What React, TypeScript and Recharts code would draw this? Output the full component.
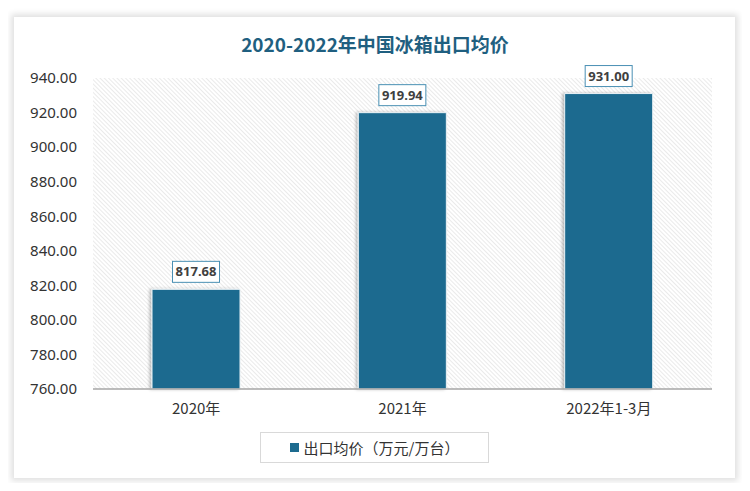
import React from "react";
import { BarChart, Bar, XAxis, YAxis, CartesianGrid, LabelList } from "recharts";

const categories = ["2020年", "2021年", "2022年1-3月"];
const values = [817.68, 919.94, 931.0];
const yTicks = [760, 780, 800, 820, 840, 860, 880, 900, 920, 940];
const seriesName = "出口均价（万元/万台）";
const title = "2020-2022年中国冰箱出口均价";

const data = categories.map((c, i) => ({ name: c, value: values[i] }));

const BAR_COLOR = "#1d6b8f";

const ValueLabel = (props: any) => {
  const { x, y, width, value } = props;
  const text = Number(value).toFixed(2);
  const w = 47;
  const h = 21;
  const cx = x + width / 2;
  const top = y - 7 - h;
  return (
    <g>
      <rect x={cx - w / 2} y={top} width={w} height={h} fill="#ffffff" stroke="#4a90b4" strokeWidth={1} />
      <text
        x={cx}
        y={top + h / 2 + 1}
        textAnchor="middle"
        dominantBaseline="middle"
        fontSize={13}
        fontWeight="bold"
        fill="#404040"
        fontFamily="'Noto Sans', 'DejaVu Sans', sans-serif"
      >
        {text}
      </text>
    </g>
  );
};

export default function App() {
  return (
    <div style={{ position: "relative", margin: -8, width: 750, height: 491, background: "#ffffff", overflow: "hidden" }}>
      <div
        style={{
          position: "absolute",
          left: 14,
          top: 17,
          width: 721,
          height: 461,
          background: "#fff",
          boxShadow: "0 0 6px 3px rgba(0,0,0,0.12)",
        }}
      />
      <div
        style={{
          position: "absolute",
          left: 0,
          top: 30,
          width: 750,
          textAlign: "center",
          fontFamily: "'Noto Sans CJK SC', sans-serif",
          fontWeight: "bold",
          fontSize: 19,
          color: "#1f5f80",
          lineHeight: "28px",
        }}
      >
        {title}
      </div>
      <div style={{ position: "absolute", left: 0, top: 0 }}>
        <BarChart
          width={750}
          height={491}
          data={data}
          margin={{ top: 78, right: 38, bottom: 72, left: 13 }}
          barCategoryGap="28.6%"
        >
          <defs>
            <pattern id="hatch" patternUnits="userSpaceOnUse" width="3" height="3" patternTransform="rotate(-45)">
              <rect width="3" height="3" fill="#ffffff" />
              <line x1="0" y1="0" x2="0" y2="3" stroke="#d6d6d6" strokeWidth="1" />
            </pattern>
            <filter id="barShadow" x="-20%" y="-20%" width="140%" height="140%">
              <feDropShadow dx="-2" dy="0" stdDeviation="1.5" floodColor="#000" floodOpacity="0.25" />
            </filter>
          </defs>
          <CartesianGrid horizontal={false} vertical={false} fill="url(#hatch)" fillOpacity={1} />
          <XAxis
            dataKey="name"
            axisLine={{ stroke: "#a6a6a6", strokeWidth: 1.5 }}
            tickLine={false}
            tick={{ fill: "#333", fontSize: 15, fontFamily: "'Noto Sans CJK SC', sans-serif" }}
            tickMargin={8}
            height={30}
          />
          <YAxis
            domain={[760, 940]}
            ticks={yTicks}
            interval={0}
            axisLine={false}
            tickLine={false}
            width={80}
            tickFormatter={(v: number) => v.toFixed(2)}
            tick={{ fill: "#333", fontSize: 15, fontFamily: "'Noto Sans', 'DejaVu Sans', sans-serif" }}
            tickMargin={10}
          />
          <Bar
            dataKey="value"
            name={seriesName}
            fill={BAR_COLOR}
            stroke="#eaf2f6"
            strokeWidth={1}
            filter="url(#barShadow)"
            isAnimationActive={false}
          >
            <LabelList dataKey="value" content={<ValueLabel />} />
          </Bar>
        </BarChart>
      </div>
      <div
        style={{
          position: "absolute",
          left: 260,
          top: 432,
          width: 229,
          height: 31,
          border: "1px solid #d9d9d9",
          background: "#fff",
          boxSizing: "border-box",
          display: "flex",
          alignItems: "center",
          justifyContent: "center",
          fontFamily: "'Noto Sans CJK SC', sans-serif",
          fontSize: 15,
          color: "#333",
        }}
      >
        <span style={{ display: "inline-block", width: 9, height: 9, background: BAR_COLOR, marginRight: 5 }} />
        <span>{seriesName}</span>
      </div>
    </div>
  );
}
